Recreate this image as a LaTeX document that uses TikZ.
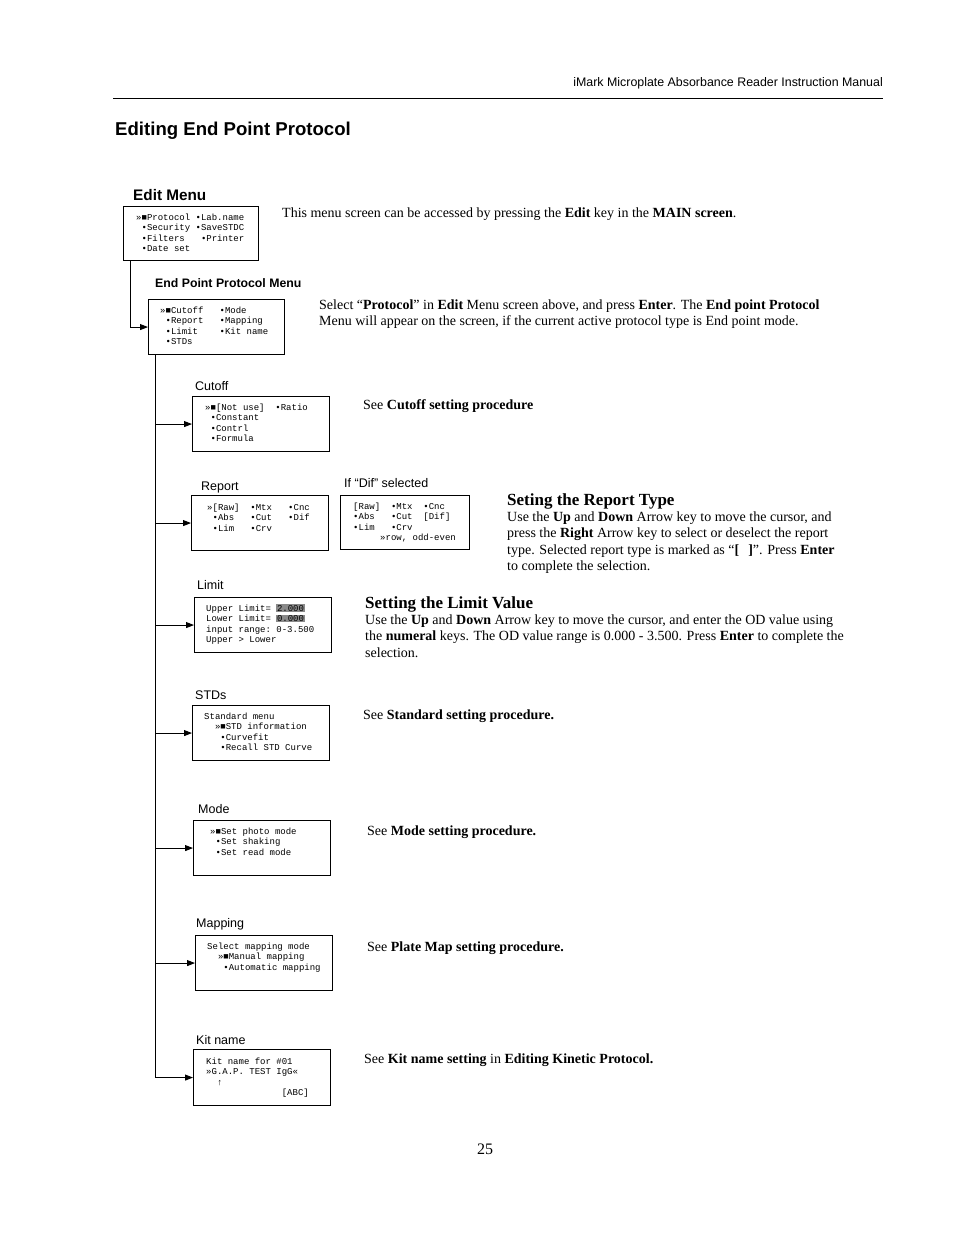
\documentclass[tikz,border=0pt]{standalone}
\usepackage{fontspec}
\setmainfont{Liberation Serif}
\setsansfont{Liberation Sans}
\newfontfamily\monof{Liberation Mono}
\usetikzlibrary{arrows.meta}
\definecolor{hlgray}{HTML}{8A8A8A}
\newcommand\scr[1]{\vtop{\monof\fontsize{9}{10.5}\selectfont\baselineskip=10.5pt\halign{##\hfil\cr#1\crcr}}}
\newcommand\para[1]{\vtop{\fontsize{14}{16.5}\selectfont\baselineskip=16.5pt\halign{##\hfil\cr#1\crcr}}}
\newcommand\hl[1]{{\setlength{\fboxsep}{0.6pt}\colorbox{hlgray}{#1}}}
\tikzset{
  scrbox/.style={draw, line width=1.1pt, anchor=north west, inner sep=0pt, minimum width=137pt, minimum height=55pt},
  scrtext/.style={anchor=base west, inner sep=0pt},
  lbl/.style={anchor=base west, inner sep=0pt, font=\sffamily\fontsize{12.5}{14}\selectfont},
  txt/.style={anchor=base west, inner sep=0pt},
  conn/.style={line width=0.9pt},
  arr/.style={conn, -{Triangle[length=8pt,width=6pt]}},
}
\begin{document}
\begin{tikzpicture}[x=1pt,y=-1pt]
\useasboundingbox[fill=white] (0,0) rectangle (954,1235);

% header
\node[anchor=base east, inner sep=0pt, font=\sffamily\fontsize{12.4}{14}\selectfont] (hdr) at (883,86) {iMark Microplate Absorbance Reader Instruction Manual};
\draw[line width=0.9pt] (113,98) -- (883,98);
\node[txt, font=\sffamily\bfseries\fontsize{18.6}{21}\selectfont] (title) at (115,135) {Editing End Point Protocol};

% Edit menu
\node[txt, font=\sffamily\bfseries\fontsize{15.3}{17}\selectfont] (editlbl) at (133,200) {Edit Menu};
\node[scrbox, minimum width=135pt, minimum height=54pt] (edit) at (123,206) {};
\node[scrtext] (edittxt) at (136,220) {\scr{»■Protocol~•Lab.name\cr ~•Security~•SaveSTDC\cr ~•Filters~~~•Printer\cr ~•Date~set}};
\node[txt] (editdesc) at (282,217) {\para{This menu screen can be accessed by pressing the \textbf{Edit} key in the \textbf{MAIN screen}.}};

% End point protocol menu
\node[txt, font=\sffamily\bfseries\fontsize{12.3}{14}\selectfont] (eplbl) at (155,287) {End Point Protocol Menu};
\node[scrbox, minimum width=136pt] (ep) at (148,299) {};
\node[scrtext] (eptxt) at (160,313) {\scr{»■Cutoff~~~•Mode\cr ~•Report~~~•Mapping\cr ~•Limit~~~~•Kit~name\cr ~•STDs}};
\node[txt] (epdesc) at (319,309) {\para{Select “\textbf{Protocol}” in \textbf{Edit} Menu screen above, and press \textbf{Enter}. The \textbf{End point Protocol}\cr Menu will appear on the screen, if the current active protocol type is End point mode.}};

\draw[arr] ([xshift=7pt]edit.south west) |- (ep.west);

% Cutoff
\node[lbl] (cutlbl) at (195,390) {Cutoff};
\node[scrbox] (cutoff) at (192,396) {};
\node[scrtext] (cuttxt) at (205,410) {\scr{»■[Not~use]~~•Ratio\cr ~•Constant\cr ~•Contrl\cr ~•Formula}};
\node[txt] (cutdesc) at (363,409) {\para{See \textbf{Cutoff setting procedure}}};

% Report
\node[lbl] (replbl) at (201,490) {Report};
\node[scrbox] (report) at (191,495) {};
\node[scrtext] (reptxt) at (207,510) {\scr{»[Raw]~~•Mtx~~~•Cnc\cr ~•Abs~~~•Cut~~~•Dif\cr ~•Lim~~~•Crv}};
\node[lbl] (diflbl) at (344,487) {If “Dif” selected};
\node[scrbox, minimum width=129pt, minimum height=54pt] (dif) at (340,495) {};
\node[scrtext] (diftxt) at (353,509) {\scr{[Raw]~~•Mtx~~•Cnc\cr •Abs~~~•Cut~~[Dif]\cr •Lim~~~•Crv\cr ~~~~~»row,~odd-even}};
\node[txt, font=\bfseries\fontsize{17}{19}\selectfont] (rephead) at (507,505) {Seting the Report Type};
\node[txt] (repdesc) at (507,521) {\para{Use the \textbf{Up} and \textbf{Down} Arrow key to move the cursor, and\cr press the \textbf{Right} Arrow key to select or deselect the report\cr type. Selected report type is marked as “\textbf{[\hspace{9pt}]}”. Press \textbf{Enter}\cr to complete the selection.}};

% Limit
\node[lbl] (limlbl) at (197,589) {Limit};
\node[scrbox] (limit) at (194,597) {};
\node[scrtext] (limtxt) at (206,611) {\scr{Upper~Limit=~\hl{2.000}\cr Lower~Limit=~\hl{0.000}\cr input~range:~0-3.500\cr Upper~>~Lower}};
\node[txt, font=\bfseries\fontsize{17}{19}\selectfont] (limhead) at (365,608) {Setting the Limit Value};
\node[txt] (limdesc) at (365,624) {\para{Use the \textbf{Up} and \textbf{Down} Arrow key to move the cursor, and enter the OD value using\cr the \textbf{numeral} keys. The OD value range is 0.000 - 3.500. Press \textbf{Enter} to complete the\cr selection.}};

% STDs
\node[lbl] (stdlbl) at (195,699) {STDs};
\node[scrbox] (stds) at (192,705) {};
\node[scrtext] (stdtxt) at (204,719) {\scr{Standard~menu\cr ~~»■STD~information\cr ~~~•Curvefit\cr ~~~•Recall~STD~Curve}};
\node[txt] (stddesc) at (363,719) {\para{See \textbf{Standard setting procedure.}}};

% Mode
\node[lbl] (modlbl) at (198,813) {Mode};
\node[scrbox] (mode) at (193,820) {};
\node[scrtext] (modtxt) at (210,834) {\scr{»■Set~photo~mode\cr ~•Set~shaking\cr ~•Set~read~mode}};
\node[txt] (moddesc) at (367,835) {\para{See \textbf{Mode setting procedure.}}};

% Mapping
\node[lbl] (maplbl) at (196,927) {Mapping};
\node[scrbox] (mapping) at (195,935) {};
\node[scrtext] (maptxt) at (207,949) {\scr{Select~mapping~mode\cr ~~»■Manual~mapping\cr ~~~•Automatic~mapping}};
\node[txt] (mapdesc) at (367,951) {\para{See \textbf{Plate Map setting procedure.}}};

% Kit name
\node[lbl] (kitlbl) at (196,1044) {Kit name};
\node[scrbox, minimum height=56pt] (kit) at (193,1049) {};
\node[scrtext] (kittxt) at (206,1064) {\scr{Kit~name~for~\#01\cr »G.A.P.~TEST~IgG«\cr ~~↑\cr ~~~~~~~~~~~~~~[ABC]}};
\node[txt] (kitdesc) at (364,1063) {\para{See \textbf{Kit name setting} in \textbf{Editing Kinetic Protocol.}}};

% connectors
\coordinate (t) at ([xshift=7pt]ep.south west);
\draw[arr] (t) |- (kit.west);
\foreach \b in {cutoff,report,limit,stds,mode,mapping}{
  \draw[arr] (t |- \b.west) -- (\b.west);
}

% page number
\node[txt, font=\fontsize{16}{18}\selectfont] (pg) at (477,1154) {25};
\end{tikzpicture}
\end{document}
